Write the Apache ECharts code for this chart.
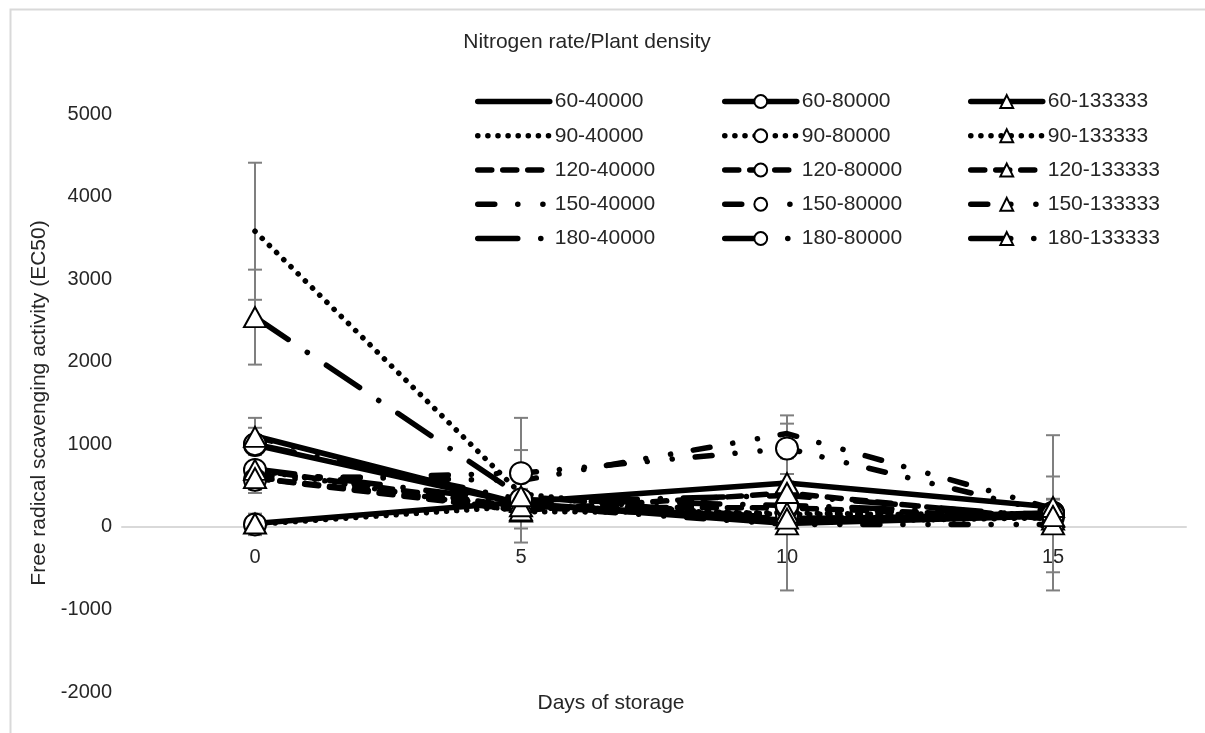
<!DOCTYPE html>
<html>
<head>
<meta charset="utf-8">
<script src="https://cdn.jsdelivr.net/npm/echarts@6/dist/echarts.min.js"></script>
<style>html,body{margin:0;padding:0;background:#fff;}#c{width:1205px;height:733px;}</style>
</head>
<body>
<div id="c"></div>
<script>
// ---- data ----
const days = ['0', '5', '10', '15'];
const yTicks = [-2000, -1000, 0, 1000, 2000, 3000, 4000, 5000];

const v60_40000 = [1100, 280, 40, 130];
const v90_40000 = [3580, 400, 60, 110];
const v120_40000 = [590, 240, 100, 140];
const v150_40000 = [620, 560, 1130, 220];
const v180_40000 = [700, 300, 380, 120];
const v60_80000 = [990, 280, 80, 170];
const v90_80000 = [30, 250, 150, 160];
const v120_80000 = [690, 240, 230, 120];
const v150_80000 = [570, 650, 950, 170];
const v180_80000 = [1000, 330, 260, 150];
const v60_133333 = [40, 300, 530, 240];
const v90_133333 = [690, 185, 170, 120];
const v120_133333 = [590, 200, 410, 90];
const v150_133333 = [1090, 250, 30, 30];
const v180_133333 = [2540, 370, 100, 130];

const e60_40000 = [220, 120, 80, 100];
const e90_40000 = [830, 150, 100, 120];
const e120_40000 = [180, 90, 80, 90];
const e150_40000 = [90, 100, 120, 110];
const e180_40000 = [100, 90, 100, 80];
const e60_80000 = [120, 90, 80, 90];
const e90_80000 = [130, 80, 90, 80];
const e120_80000 = [90, 80, 70, 90];
const e150_80000 = [120, 670, 400, 940];
const e180_80000 = [100, 80, 90, 90];
const e60_133333 = [80, 90, 110, 100];
const e90_133333 = [90, 90, 90, 80];
const e120_133333 = [80, 80, 90, 80];
const e150_133333 = [110, 90, 800, 580];
const e180_133333 = [575, 560, 100, 100];

const rates = ['60', '90', '120', '150', '180'];
const densities = ['40000', '80000', '133333'];
const values = {
  '60-40000': v60_40000, '90-40000': v90_40000, '120-40000': v120_40000, '150-40000': v150_40000, '180-40000': v180_40000,
  '60-80000': v60_80000, '90-80000': v90_80000, '120-80000': v120_80000, '150-80000': v150_80000, '180-80000': v180_80000,
  '60-133333': v60_133333, '90-133333': v90_133333, '120-133333': v120_133333, '150-133333': v150_133333, '180-133333': v180_133333
};
const errors = {
  '60-40000': e60_40000, '90-40000': e90_40000, '120-40000': e120_40000, '150-40000': e150_40000, '180-40000': e180_40000,
  '60-80000': e60_80000, '90-80000': e90_80000, '120-80000': e120_80000, '150-80000': e150_80000, '180-80000': e180_80000,
  '60-133333': e60_133333, '90-133333': e90_133333, '120-133333': e120_133333, '150-133333': e150_133333, '180-133333': e180_133333
};

// ---- styles ----
const FONT = '"Liberation Sans", Arial, sans-serif';
const TXT = '#262626';
const LW = 5.5;
const dashByRate = {
  '60': 'solid',
  '90': [0.1, 10],
  '120': [14, 11],
  '150': [17, 23, 0.1, 25, 0.1, 23],
  '180': [40, 23, 0.1, 23]
};
const symbolByDensity = { '40000': 'none', '80000': 'circle', '133333': 'triangle' };

const series = [];
const legendCols = [];
densities.forEach(function (d) {
  const col = [];
  rates.forEach(function (r) {
    const name = r + '-' + d;
    col.push(name);
    const sym = symbolByDensity[d];
    series.push({
      name: name,
      type: 'line',
      data: values[name],
      symbol: sym,
      symbolSize: d === '133333' ? [22, 20] : 22,
      showSymbol: sym !== 'none',
      itemStyle: sym === 'none'
        ? { color: 'rgba(0,0,0,0)', borderWidth: 0 }
        : { color: '#ffffff', borderColor: '#000000', borderWidth: 2 },
      lineStyle: { color: '#000000', width: LW, type: dashByRate[r], cap: 'round', join: 'round' },
      emphasis: { disabled: true },
      animation: false,
      z: 3
    });
  });
  legendCols.push(col);
});

const errData = [];
Object.keys(values).forEach(function (name) {
  const v = values[name], e = errors[name];
  for (let i = 0; i < days.length; i++) {
    errData.push([i, v[i] - e[i], v[i] + e[i]]);
  }
});

series.unshift({
  name: 'error bars',
  type: 'custom',
  data: errData,
  encode: { x: 0, y: [1, 2] },
  z: 2,
  silent: true,
  animation: false,
  renderItem: function (params, api) {
    const i = api.value(0);
    const top = api.coord([i, api.value(2)]);
    const bot = api.coord([i, api.value(1)]);
    const cap = 7;
    const st = { stroke: '#7f7f7f', lineWidth: 2 };
    return {
      type: 'group',
      children: [
        { type: 'line', shape: { x1: top[0], y1: top[1], x2: bot[0], y2: bot[1] }, style: st },
        { type: 'line', shape: { x1: top[0] - cap, y1: top[1], x2: top[0] + cap, y2: top[1] }, style: st },
        { type: 'line', shape: { x1: bot[0] - cap, y1: bot[1], x2: bot[0] + cap, y2: bot[1] }, style: st }
      ]
    };
  }
});

const legendLefts = [470, 717, 963];
const legends = legendCols.map(function (col, k) {
  return {
    data: col,
    orient: 'vertical',
    left: legendLefts[k],
    top: 86,
    itemWidth: 72,
    itemHeight: 16,
    itemGap: 13.25,
    selectedMode: false,
    lineStyle: { width: LW, cap: 'round' },
    textStyle: { fontFamily: FONT, fontSize: 21, color: TXT, padding: [0, 0, 0, 0] }
  };
});

const chart = echarts.init(document.getElementById('c'), null, { renderer: 'canvas' });
chart.setOption({
  backgroundColor: '#ffffff',
  animation: false,
  title: {
    text: 'Nitrogen rate/Plant density',
    left: 582,
    top: 27,
    textAlign: 'center',
    textStyle: { fontFamily: FONT, fontSize: 21, fontWeight: 'normal', color: TXT }
  },
  legend: legends,
  graphic: [{
    type: 'rect', left: 8, top: 7, silent: true,
    shape: { width: 1300, height: 900 },
    style: { fill: 'none', stroke: '#d9d9d9', lineWidth: 2 }
  }],
  grid: { left: 122, right: 19, top: 114, bottom: 41, containLabel: false, outerBoundsMode: 'none' },
  xAxis: {
    type: 'category',
    data: days,
    boundaryGap: true,
    offset: -165,
    axisLine: { show: true, onZero: false, lineStyle: { color: '#d9d9d9', width: 2 } },
    axisTick: { show: false },
    axisLabel: { fontFamily: FONT, fontSize: 20, color: TXT, margin: 20 },
    name: 'Days of storage',
    nameLocation: 'middle',
    nameGap: 166,
    nameTextStyle: { fontFamily: FONT, fontSize: 21, color: TXT, padding: [0, 86, 0, 0] },
    splitLine: { show: false }
  },
  yAxis: {
    type: 'value',
    min: yTicks[0],
    max: yTicks[yTicks.length - 1],
    interval: 1000,
    axisLine: { show: false },
    axisTick: { show: false },
    splitLine: { show: false },
    axisLabel: { fontFamily: FONT, fontSize: 20, color: TXT, margin: 10, formatter: function (v) { return String(v); } },
    name: 'Free radical scavenging activity (EC50)',
    nameLocation: 'middle',
    nameGap: 72,
    nameTextStyle: { fontFamily: FONT, fontSize: 21, color: TXT }
  },
  series: series
});
</script>
</body>
</html>
